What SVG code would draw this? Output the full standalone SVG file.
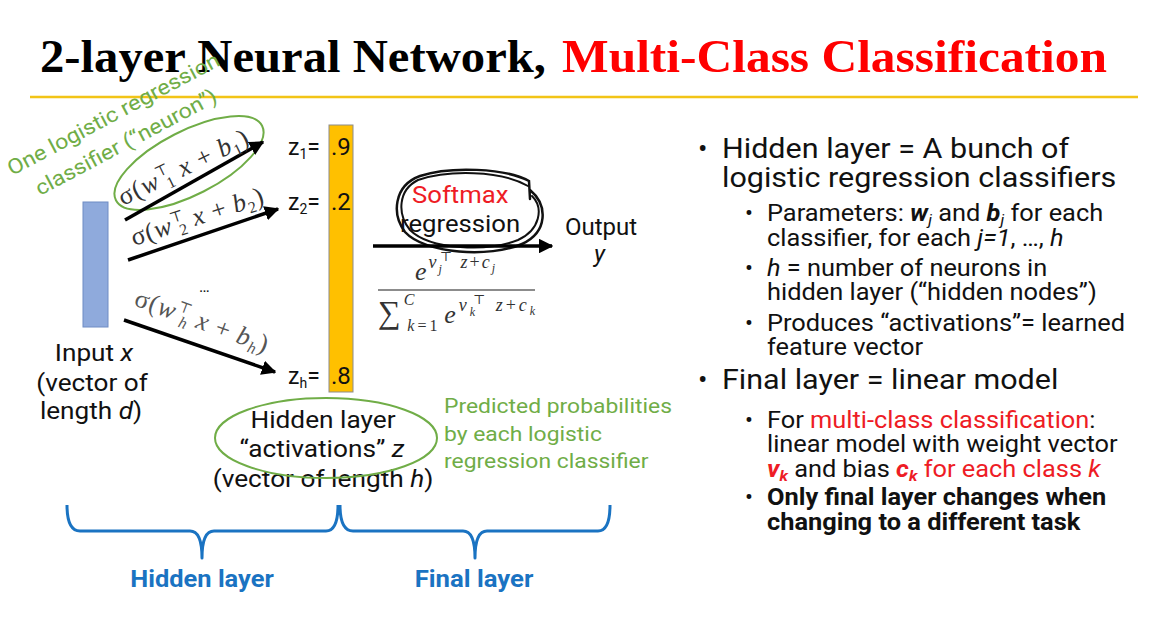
<svg xmlns="http://www.w3.org/2000/svg" width="1162" height="623" viewBox="0 0 1162 623">
<defs>
<style>
.t{font-family:Roboto,"Liberation Sans",sans-serif;fill:#111}
.m{font-family:"Liberation Serif","DejaVu Serif",serif;fill:#333}
.g{font-family:Roboto,"Liberation Sans",sans-serif;fill:#70ad47}
.red{fill:#ee1c25}
.blue{fill:#1a73c2}
.green{fill:none;stroke:#70ad47;stroke-width:2}
.brace{fill:none;stroke:#1a73c2;stroke-width:3;stroke-linejoin:round}
.arr{stroke:#000;stroke-width:3.5;fill:none}
.i{font-style:italic}
.b{font-weight:bold}
.big{font-size:28px}
.sm{font-size:23.5px}
</style>
<marker id="ah" viewBox="0 0 10 10" refX="9" refY="5" markerWidth="4.2" markerHeight="4.2" orient="auto" markerUnits="strokeWidth">
<path d="M0,0 L10,5 L0,10 Z" fill="#000"/>
</marker>
</defs>
<rect width="1162" height="623" fill="#fff"/>

<g id="title">
<text x="40" y="72" font-family="'Liberation Serif','DejaVu Serif',serif" font-weight="bold" font-size="47" fill="#000" textLength="506" lengthAdjust="spacingAndGlyphs">2-layer Neural Network,</text>
<text x="562" y="72" font-family="'Liberation Serif','DejaVu Serif',serif" font-weight="bold" font-size="47" fill="#ff0000" textLength="545" lengthAdjust="spacingAndGlyphs">Multi-Class Classification</text>
<line x1="30" y1="97" x2="1138" y2="97" stroke="#f2c417" stroke-width="2.5"/>
</g>

<g id="input">
<rect x="83" y="202" width="25" height="125" fill="#8faadc" stroke="#6f8cc4" stroke-width="1"/>
<g class="t" font-size="24" text-anchor="middle">
<text transform="translate(94,361) scale(1.09,1)">Input <tspan class="i">x</tspan></text>
<text transform="translate(92,391) scale(1.09,1)">(vector of</text>
<text transform="translate(91,419) scale(1.09,1)">length <tspan class="i">d</tspan>)</text>
</g>
</g>

<g id="hidden">
<rect x="329" y="125" width="24" height="267" fill="#ffc000" stroke="#8c8c8c" stroke-width="1"/>
<text class="t" font-size="23" x="288" y="155">z<tspan font-size="14" dy="4">1</tspan><tspan dy="-4">=</tspan></text>
<text class="t" font-size="24" x="331" y="155">.9</text>
<text class="t" font-size="23" x="288" y="210">z<tspan font-size="14" dy="4">2</tspan><tspan dy="-4">=</tspan></text>
<text class="t" font-size="24" x="331" y="210">.2</text>
<text class="t" font-size="23" x="288" y="384">z<tspan font-size="14" dy="4">h</tspan><tspan dy="-4">=</tspan></text>
<text class="t" font-size="24" x="331" y="384">.8</text>
<g class="t" font-size="23.5" text-anchor="middle">
<text transform="translate(323,428) scale(1.117,1)">Hidden layer</text>
<text transform="translate(322,457) scale(1.117,1)">“activations” <tspan class="i">z</tspan></text>
<text transform="translate(323,487) scale(1.117,1)">(vector of length <tspan class="i">h</tspan>)</text>
</g>
<ellipse class="green" cx="326" cy="438" rx="111" ry="40"/>
<g class="g" font-size="21">
<text transform="translate(444,413) scale(1.09,1)">Predicted probabilities</text>
<text transform="translate(444,441) scale(1.09,1)">by each logistic</text>
<text transform="translate(444,468) scale(1.09,1)">regression classifier</text>
</g>
</g>

<g id="neuron-note">
<text class="g" font-size="21" transform="translate(12,176) rotate(-28) scale(1.11,1)">One logistic regression</text>
<text class="g" font-size="21" transform="translate(40,196) rotate(-28) scale(1.11,1)">classifier (“neuron”)</text>
<ellipse class="green" cx="189" cy="163" rx="82" ry="32" transform="rotate(-27 189 163)"/>
</g>

<g id="softmax">
<text class="t" font-size="24" transform="translate(412,203) scale(1.07,1)" style="fill:#ee1c25">Softmax</text>
<text class="t" font-size="24" transform="translate(400,232) scale(1.07,1)">regression</text>
<path d="M530,199 L529,181 C505,168 450,166 420,176 C393,186 392,215 405,232 C425,254 490,258 522,244 C548,232 548,205 530,190" fill="none" stroke="#111" stroke-width="2.5" stroke-linecap="round"/>
<path d="M528,186 C500,170 448,170 418,180 C398,190 397,214 410,230 C430,250 488,252 518,240 C540,230 544,208 532,196" fill="none" stroke="#111" stroke-width="2" stroke-linecap="round"/>
<text class="t" font-size="24" x="565" y="235">Output</text>
<text class="t i" font-size="24" x="594" y="262">y</text>
<g class="m">
<text x="415" y="280" font-size="26" textLength="80" lengthAdjust="spacing"><tspan class="i">e</tspan><tspan font-size="18" dy="-12" class="i">v</tspan><tspan font-size="12" dy="5" class="i">j</tspan><tspan font-size="13" dx="-4" dy="-12">⊤</tspan><tspan font-size="18" dy="7" class="i"> z</tspan><tspan font-size="18">+</tspan><tspan font-size="18" class="i">c</tspan><tspan font-size="12" dy="4" class="i">j</tspan></text>
<line x1="378" y1="290" x2="535" y2="290" stroke="#666" stroke-width="1.5"/>
<text x="378" y="323" font-size="26" textLength="157" lengthAdjust="spacing"><tspan font-size="32">∑</tspan><tspan font-size="16" dy="-18" class="i">C</tspan><tspan font-size="16" dx="-10" dy="26" class="i">k</tspan><tspan font-size="16">=1</tspan><tspan dx="4" dy="-8" class="i">e</tspan><tspan font-size="18" dy="-12" class="i">v</tspan><tspan font-size="12" dy="5" class="i">k</tspan><tspan font-size="13" dx="-5" dy="-12">⊤</tspan><tspan font-size="18" dy="7" class="i"> z</tspan><tspan font-size="18">+</tspan><tspan font-size="18" class="i">c</tspan><tspan font-size="12" dy="4" class="i">k</tspan></text>
</g>
</g>

<g id="connectors">
<line class="arr" x1="125" y1="220" x2="263" y2="142" marker-end="url(#ah)"/>
<line class="arr" x1="128" y1="260" x2="278" y2="209" marker-end="url(#ah)"/>
<line class="arr" x1="124" y1="320" x2="275" y2="372" marker-end="url(#ah)"/>
<line class="arr" x1="373" y1="246" x2="552" y2="246" marker-end="url(#ah)"/>
</g>

<g id="weights" class="m" font-size="26">
<text transform="translate(123,206) rotate(-26)" textLength="142" lengthAdjust="spacing">σ(<tspan class="i">w</tspan><tspan font-size="15" dy="-10">⊤</tspan><tspan font-size="16" dx="-9" dy="15">1</tspan><tspan dy="-5" class="i"> x</tspan> + <tspan class="i">b</tspan><tspan font-size="16" dy="5">1</tspan><tspan dy="-5">)</tspan></text>
<text transform="translate(134,246) rotate(-18)" textLength="138" lengthAdjust="spacing">σ(<tspan class="i">w</tspan><tspan font-size="15" dy="-10">⊤</tspan><tspan font-size="16" dx="-9" dy="15">2</tspan><tspan dy="-5" class="i"> x</tspan> + <tspan class="i">b</tspan><tspan font-size="16" dy="5">2</tspan><tspan dy="-5">)</tspan></text>
<text transform="translate(133,305) rotate(20)" textLength="140" lengthAdjust="spacing" style="fill:#555">σ(<tspan class="i">w</tspan><tspan font-size="15" dy="-10">⊤</tspan><tspan font-size="16" dx="-9" dy="15" class="i">h</tspan><tspan dy="-5" class="i"> x</tspan> + <tspan class="i">b</tspan><tspan font-size="16" dy="5" class="i">h</tspan><tspan dy="-5">)</tspan></text>
<text class="t" font-size="16" x="199" y="292">…</text>
</g>

<g id="braces">
<path class="brace" d="M67,505 Q67,531 80,531 L190,531 Q202,531 202,558 Q202,531 214,531 L326,531 Q338,531 338,505"/>
<path class="brace" d="M340,505 Q340,531 353,531 L463,531 Q475,531 475,558 Q475,531 487,531 L598,531 Q610,531 610,505"/>
<text class="t b blue" font-size="24" text-anchor="middle" transform="translate(202,587) scale(1.06,1)">Hidden layer</text>
<text class="t b blue" font-size="24" text-anchor="middle" transform="translate(474,587) scale(1.07,1)">Final layer</text>
</g>

<g id="bullets" class="t">
<text class="big" x="698" y="158">•</text>
<text class="big" transform="translate(722,158) scale(1.09,1)">Hidden layer = A bunch of</text>
<text class="big" transform="translate(722,187) scale(1.09,1)">logistic regression classifiers</text>
<text class="sm" x="745" y="221">•</text>
<text class="sm" transform="translate(767,221) scale(1.08,1)">Parameters: <tspan class="b i">w</tspan><tspan class="i" font-size="15" dy="4">j</tspan><tspan dy="-4"> and </tspan><tspan class="b i">b</tspan><tspan class="i" font-size="15" dy="4">j</tspan><tspan dy="-4"> for each</tspan></text>
<text class="sm" transform="translate(767,246) scale(1.08,1)">classifier, for each <tspan class="i">j=1</tspan>, …, <tspan class="i">h</tspan></text>
<text class="sm" x="745" y="276">•</text>
<text class="sm" transform="translate(767,276) scale(1.08,1)"><tspan class="i">h</tspan> = number of neurons in</text>
<text class="sm" transform="translate(767,300) scale(1.08,1)">hidden layer (“hidden nodes”)</text>
<text class="sm" x="745" y="331">•</text>
<text class="sm" transform="translate(767,331) scale(1.08,1)">Produces “activations”= learned</text>
<text class="sm" transform="translate(767,355) scale(1.08,1)">feature vector</text>
<text class="big" x="698" y="389">•</text>
<text class="big" transform="translate(722,389) scale(1.09,1)">Final layer = linear model</text>
<text class="sm" x="745" y="428">•</text>
<text class="sm" transform="translate(767,428) scale(1.08,1)">For <tspan class="red">multi-class classification</tspan>:</text>
<text class="sm" transform="translate(767,452) scale(1.08,1)">linear model with weight vector</text>
<text class="sm" transform="translate(767,477) scale(1.08,1)"><tspan class="b i red">v</tspan><tspan class="b i red" font-size="15" dy="4">k</tspan><tspan dy="-4"> and bias </tspan><tspan class="b i red">c</tspan><tspan class="b i red" font-size="15" dy="4">k</tspan><tspan dy="-4" class="red"> for each class </tspan><tspan class="i red">k</tspan></text>
<text class="sm" x="745" y="505">•</text>
<text class="sm b" transform="translate(767,505) scale(1.08,1)">Only final layer changes when</text>
<text class="sm b" transform="translate(767,530) scale(1.08,1)">changing to a different task</text>
</g>
</svg>
